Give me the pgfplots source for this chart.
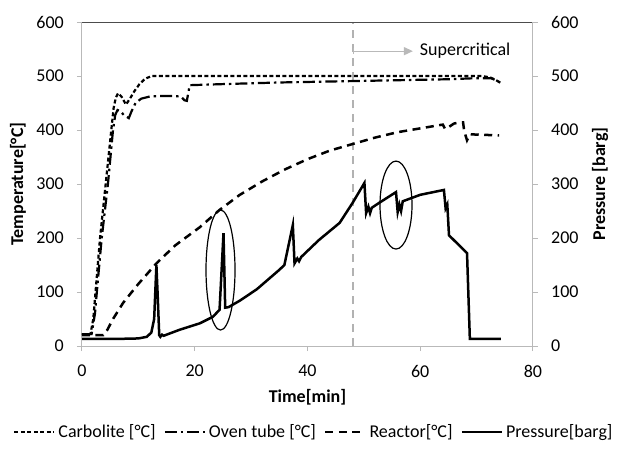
\documentclass[border=0pt]{standalone}
\usepackage{fontspec}
\setmainfont{Carlito}
\usepackage{pgfplots}
\pgfplotsset{compat=1.18}
\usetikzlibrary{arrows.meta}
\newcommand{\F}{\fontsize{18}{21}\selectfont}
\begin{document}
\F
\begin{tikzpicture}
\path[use as bounding box] (0,0) rectangle (619pt,448pt);
\pgfplotsset{
  common/.style={
    at={(82pt,102pt)}, anchor=south west,
    scale only axis, width=451pt, height=324pt,
    xmin=0, xmax=80, ymin=0, ymax=600,
    ytick={0,100,...,600},
    tick align=outside, major tick length=5pt,
    tick style={draw=gray!55, line width=1pt},
    axis line style={draw=gray!55, line width=1pt, -},
    /pgf/number format/assume math mode=true,
    tick label style={font=\F},
    label style={font=\F\bfseries},
  },
  carb/.style={black, line width=2.2pt, dash pattern=on 4pt off 2.5pt},
  oven/.style={black, line width=2.2pt, dash pattern=on 12pt off 4pt on 2.5pt off 4pt},
  reac/.style={black, line width=2.5pt, dash pattern=on 8pt off 5.5pt},
  pres/.style={black, line width=2.5pt},
}
\begin{axis}[common,
  axis x line*=bottom, axis y line*=left,
  xtick={0,20,...,80},
  xticklabel style={yshift=-8pt},
  yticklabel style={xshift=-7pt},
  xlabel={Time[min]},
  ylabel={Temperature[°C]},
  xlabel style={at={(axis description cs:0.5,-0.157)}, anchor=center},
  ylabel style={at={(axis description cs:-0.142,0.5)}, anchor=center},
]
\draw[draw=gray!60, line width=2pt, dash pattern=on 8pt off 6pt] (axis cs:48,0) -- (axis cs:48,600);
\draw[draw=gray!55, line width=1.3pt, {Bar[width=6pt]}-{Triangle[width=8pt,length=9pt]}] (axis cs:48,546) -- (axis cs:58.7,546);
\node[anchor=west, font=\F, inner sep=0pt] at (axis cs:59.9,546) {Supercritical};
\addplot[carb] coordinates {
(0,22) (1.5,22) (2.0,50) (2.4,100) (3.2,200) (4.2,300) (5.2,400) (5.6,440) (6.0,460) (6.4,468)
(7.0,462) (7.8,447) (8.5,458) (9.3,472) (10.2,485) (11.2,495) (12.4,500) (20,500) (30,500)
(40,500) (50,500) (60,500) (68,500) (71,500) (72.5,497) (73.5,492) (74.3,487)};
\addplot[oven] coordinates {
(0,22) (1.7,22) (2.3,60) (2.8,120) (3.5,200) (4.6,300) (5.5,400) (5.9,428) (6.3,437) (6.8,435)
(7.4,428) (8.3,422) (8.8,435) (9.5,450) (10.5,458) (12,462) (14,463) (16,463) (17.5,462)
(18.2,455) (18.6,454) (19.1,483) (25,485) (35,488) (45,490) (55,492) (65,494) (70,496)
(72.5,496) (73.5,492) (74.3,487)};
\addplot[reac] coordinates {
(0,20) (3.8,20) (4.5,30) (5.5,50) (7.3,80) (10,115) (13.2,153) (16.5,186) (20.9,220) (24.4,252)
(28,280) (32,305) (36,327) (40,346) (44,362) (48,374) (52,386) (56,396) (60,403) (63.4,409)
(64,410) (64.4,402) (65,405) (66,412) (67,414) (67.6,414) (67.8,398) (68.3,381) (68.8,392) (74,390)};
\draw[draw=black!70, line width=1pt] (rel axis cs:0,1) -- (rel axis cs:1,1);
\end{axis}
\begin{axis}[common,
  axis x line=none, axis y line*=right,
  yticklabel style={xshift=7pt},
  ylabel={Pressure [barg]},
  ylabel style={at={(axis description cs:1.149,0.5)}, anchor=center},
  legend columns=4,
  legend style={draw=none, fill=none, font=\F,
    at={(axis description cs:0.513,-0.265)}, anchor=center,
    nodes={inner sep=1pt},
    /tikz/every odd column/.append style={column sep=2pt},
    /tikz/every even column/.append style={column sep=7pt}},
  legend image code/.code={\draw[#1] (0pt,0pt) -- (40pt,0pt);},
]
\addlegendimage{carb}
\addlegendentry{Carbolite [°C]}
\addlegendimage{oven}
\addlegendentry{Oven tube [°C]}
\addlegendimage{reac}
\addlegendentry{Reactor[°C]}
\addplot[pres] coordinates {
(0,13) (5,13) (8,13.5) (10,14) (11.5,17) (12.3,25) (12.8,50) (13.2,150) (13.4,100) (13.7,20)
(13.9,17) (14.2,21) (14.5,19) (15,21) (17.3,30) (20.9,42) (23.2,54) (24.4,67) (25.1,209)
(25.4,71) (26,72) (28,84) (31,105) (35,141) (35.9,150) (37.4,224) (37.7,153) (38.2,162)
(38.5,157) (38.9,165) (42,196) (45.7,228) (48,265) (50.1,302) (50.4,246) (50.8,258) (51.1,246)
(51.4,256) (52.7,265) (55.7,285) (56,248) (56.3,262) (56.6,250) (56.9,268) (60,280) (64.2,289)
(64.5,255) (64.8,262) (65.1,205) (68.3,172) (68.8,13) (74.3,13)};
\addlegendentry{Pressure[barg]}
\draw[line width=1.2pt] (axis cs:24.57,140.7) ellipse [x radius=14.5pt, y radius=60pt];
\draw[line width=1.2pt] (axis cs:55.7,261) ellipse [x radius=16pt, y radius=44pt];
\end{axis}
\end{tikzpicture}
\end{document}
